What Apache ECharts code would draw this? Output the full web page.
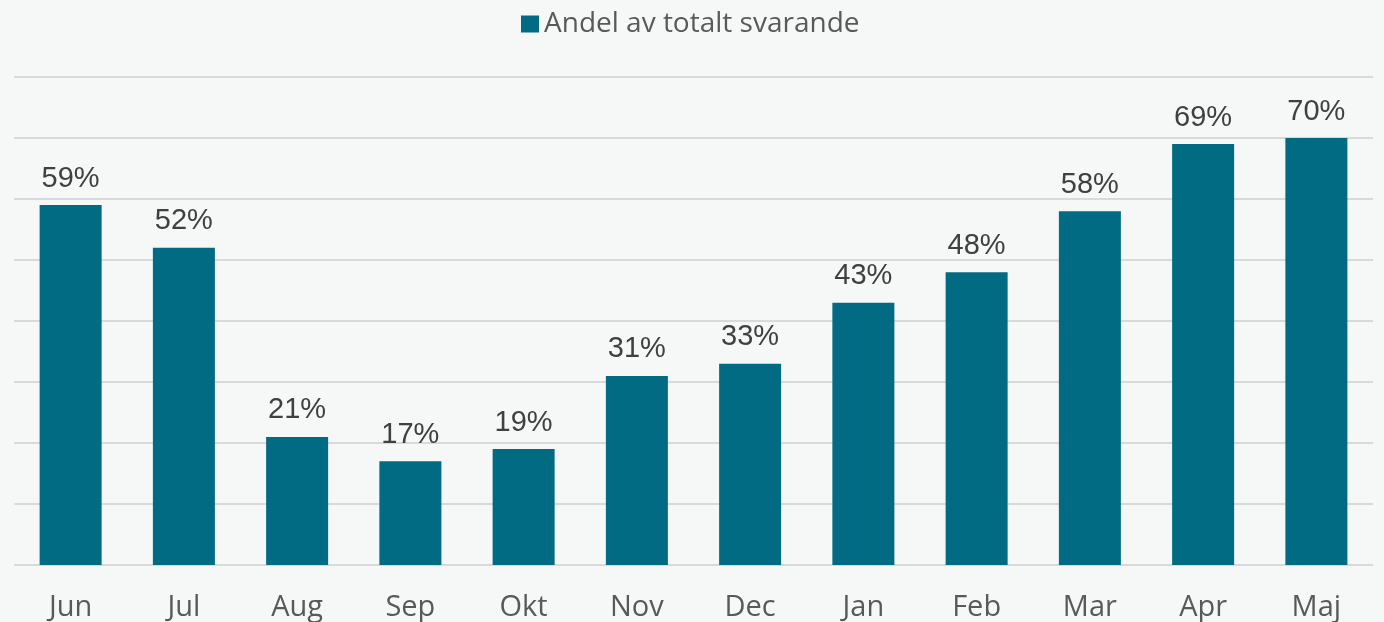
<!DOCTYPE html>
<html>
<head>
<meta charset="utf-8">
<script src="https://cdn.jsdelivr.net/npm/echarts@6/dist/echarts.min.js"></script>
<style>
  html, body { margin: 0; padding: 0; background: #f6f8f7; }
  #chart { width: 1384px; height: 622px; }
</style>
</head>
<body>
<div id="chart"></div>
<script>
  const MONTHS = ['Jun', 'Jul', 'Aug', 'Sep', 'Okt', 'Nov', 'Dec', 'Jan', 'Feb', 'Mar', 'Apr', 'Maj']
  const ANDEL = [59, 52, 21, 17, 19, 31, 33, 43, 48, 58, 69, 70] // procent
  const SERIES_NAME = 'Andel av totalt svarande'

  let chart = echarts.init(document.getElementById('chart'))
  let option = {
    backgroundColor: '#f6f8f7',
    animation: false,
    legend: {
      data: [SERIES_NAME],
      top: 5,
      left: 516,
      icon: 'rect',
      itemWidth: 18,
      itemHeight: 17,
      itemGap: 10,
      textStyle: { fontFamily: 'Open Sans', fontSize: 28, color: '#595959' }
    },
    grid: { left: 14, right: 11, top: 77, bottom: 57, containLabel: false },
    xAxis: {
      type: 'category',
      data: MONTHS,
      axisLine: { show: false },
      axisTick: { show: false },
      axisLabel: { margin: 28, fontFamily: 'Open Sans', fontSize: 29, color: '#595959' }
    },
    yAxis: {
      type: 'value',
      min: 0,
      max: 80,
      interval: 10,
      axisLabel: { show: false },
      splitLine: { lineStyle: { color: '#d9d9d9', width: 2 } }
    },
    series: [{
      name: SERIES_NAME,
      type: 'bar',
      data: ANDEL,
      barWidth: 62,
      itemStyle: { color: '#006b82' },
      label: {
        show: true,
        position: 'top',
        distance: 12,
        formatter: p => p.value + '%',
        fontFamily: 'Liberation Sans',
        fontSize: 29,
        color: '#404040'
      }
    }]
  }
  chart.setOption(option)
</script>
</body>
</html>
